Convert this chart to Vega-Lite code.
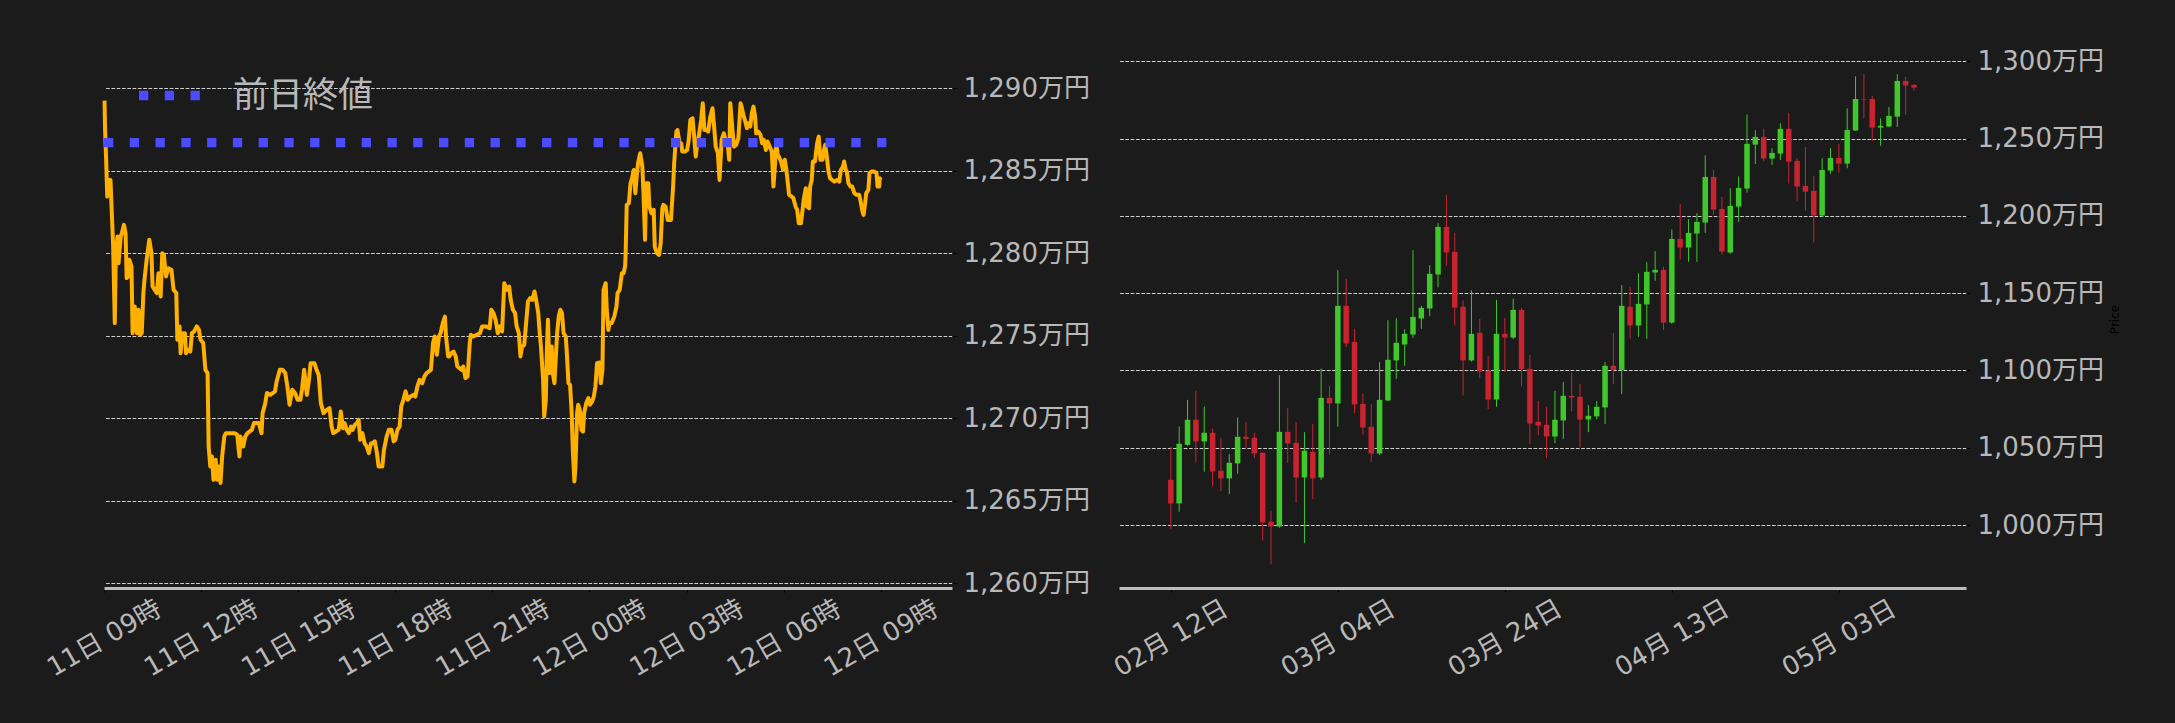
{
"$schema": "https://vega.github.io/schema/vega-lite/v6.json",
"autosize": {"type": "none"},
"padding": {"left": 104, "top": 50, "right": 2071, "bottom": 673},
"background": "#1b1b1b",
"spacing": 167,
"bounds": "flush",
"config": {
  "view": {"stroke": null},
  "font": "DejaVu Sans, Noto Sans CJK JP",
  "axis": {"labelFont": "DejaVu Sans, Noto Sans CJK JP", "labelFontSize": 26, "labelColor": "#b8b8b8", "tickColor": "#000000", "tickSize": 4, "tickWidth": 1, "labelFlush": false, "labelOverlap": false, "gridColor": "#cfcfcf", "gridDash": [3.7, 1.6], "gridWidth": 1, "titleFontWeight": "normal"},
  "axisX": {"grid": false, "domainColor": "#bdbdbd", "domainWidth": 3, "labelAngle": -30, "labelAlign": "center", "labelBaseline": "middle", "labelPadding": 46},
  "axisY": {"grid": true, "domain": false, "labelPadding": 7}
},
"hconcat": [
{
  "width": 848, "height": 538,
  "layer": [
  {
    "data": {"values": [
{"m":1,"p":1289.25},{"m":2,"p":1287.47},{"m":4,"p":1285.66},{"m":6,"p":1283.43},{"m":9,"p":1284.44},{"m":12,"p":1284.44},{"m":15,"p":1282.02},{"m":17,"p":1280.40},{"m":20,"p":1275.76},{"m":22,"p":1280.0},{"m":25,"p":1281.01},{"m":27,"p":1279.39},{"m":31,"p":1281.01},{"m":33,"p":1281.21},{"m":37,"p":1281.72},{"m":40,"p":1281.21},{"m":42,"p":1278.49},{"m":45,"p":1278.59},{"m":47,"p":1279.60},{"m":51,"p":1279.19},{"m":53,"p":1275.15},{"m":57,"p":1276.77},{"m":61,"p":1275.15},{"m":64,"p":1276.57},{"m":67,"p":1275.05},{"m":70,"p":1275.15},{"m":73,"p":1277.58},{"m":75,"p":1278.38},{"m":79,"p":1279.60},{"m":84,"p":1280.81},{"m":88,"p":1280.0},{"m":90,"p":1277.98},{"m":94,"p":1277.78},{"m":98,"p":1277.58},{"m":101,"p":1278.79},{"m":105,"p":1277.37},{"m":108,"p":1280.0},{"m":111,"p":1279.90},{"m":115,"p":1278.59},{"m":119,"p":1279.09},{"m":125,"p":1278.99},{"m":129,"p":1277.78},{"m":134,"p":1277.58},{"m":136,"p":1274.75},{"m":140,"p":1275.56},{"m":142,"p":1273.94},{"m":145,"p":1275.15},{"m":150,"p":1275.15},{"m":152,"p":1273.94},{"m":156,"p":1274.14},{"m":160,"p":1274.04},{"m":163,"p":1275.15},{"m":167,"p":1275.25},{"m":172,"p":1275.56},{"m":176,"p":1275.35},{"m":179,"p":1274.75},{"m":184,"p":1274.55},{"m":188,"p":1272.93},{"m":192,"p":1272.73},{"m":194,"p":1268.28},{"m":197,"p":1267.07},{"m":200,"p":1267.68},{"m":203,"p":1266.26},{"m":207,"p":1267.48},{"m":210,"p":1266.26},{"m":213,"p":1267.07},{"m":216,"p":1266.06},{"m":219,"p":1267.68},{"m":223,"p":1268.89},{"m":226,"p":1269.09},{"m":234,"p":1269.09},{"m":242,"p":1269.09},{"m":247,"p":1268.99},{"m":251,"p":1267.68},{"m":253,"p":1268.89},{"m":258,"p":1268.28},{"m":262,"p":1268.89},{"m":266,"p":1269.09},{"m":274,"p":1269.29},{"m":278,"p":1269.70},{"m":287,"p":1269.70},{"m":292,"p":1269.09},{"m":294,"p":1270.30},{"m":299,"p":1270.91},{"m":302,"p":1271.52},{"m":308,"p":1271.41},{"m":317,"p":1271.62},{"m":320,"p":1272.22},{"m":326,"p":1272.93},{"m":331,"p":1272.93},{"m":336,"p":1272.73},{"m":340,"p":1271.92},{"m":344,"p":1270.81},{"m":349,"p":1271.72},{"m":354,"p":1271.52},{"m":359,"p":1271.11},{"m":364,"p":1271.11},{"m":367,"p":1271.72},{"m":371,"p":1272.93},{"m":376,"p":1271.41},{"m":380,"p":1272.32},{"m":383,"p":1273.33},{"m":390,"p":1273.33},{"m":394,"p":1272.93},{"m":398,"p":1272.62},{"m":402,"p":1270.91},{"m":407,"p":1270.30},{"m":413,"p":1270.50},{"m":418,"p":1270.61},{"m":422,"p":1269.49},{"m":425,"p":1269.09},{"m":430,"p":1269.19},{"m":435,"p":1269.29},{"m":439,"p":1270.40},{"m":443,"p":1269.39},{"m":446,"p":1269.70},{"m":450,"p":1269.29},{"m":454,"p":1269.09},{"m":458,"p":1269.49},{"m":461,"p":1269.29},{"m":465,"p":1269.60},{"m":469,"p":1269.70},{"m":472,"p":1269.90},{"m":475,"p":1268.69},{"m":479,"p":1269.09},{"m":483,"p":1268.48},{"m":487,"p":1268.28},{"m":491,"p":1267.88},{"m":495,"p":1268.48},{"m":498,"p":1268.48},{"m":502,"p":1268.59},{"m":506,"p":1267.88},{"m":509,"p":1267.07},{"m":516,"p":1267.07},{"m":519,"p":1268.08},{"m":524,"p":1268.89},{"m":528,"p":1269.29},{"m":533,"p":1269.29},{"m":537,"p":1268.59},{"m":540,"p":1268.69},{"m":544,"p":1269.29},{"m":548,"p":1269.49},{"m":551,"p":1270.71},{"m":555,"p":1271.11},{"m":559,"p":1271.62},{"m":563,"p":1271.11},{"m":568,"p":1271.31},{"m":574,"p":1271.41},{"m":577,"p":1271.31},{"m":581,"p":1271.92},{"m":585,"p":1272.32},{"m":590,"p":1272.12},{"m":594,"p":1272.53},{"m":598,"p":1272.73},{"m":606,"p":1272.93},{"m":610,"p":1274.55},{"m":613,"p":1274.95},{"m":617,"p":1273.84},{"m":621,"p":1274.95},{"m":624,"p":1275.15},{"m":628,"p":1275.76},{"m":632,"p":1276.16},{"m":634,"p":1274.95},{"m":638,"p":1273.74},{"m":640,"p":1273.74},{"m":644,"p":1273.94},{"m":648,"p":1274.04},{"m":652,"p":1273.74},{"m":655,"p":1273.13},{"m":659,"p":1273.03},{"m":663,"p":1272.93},{"m":666,"p":1273.13},{"m":670,"p":1272.43},{"m":674,"p":1272.53},{"m":678,"p":1274.55},{"m":680,"p":1275.05},{"m":685,"p":1274.95},{"m":691,"p":1275.05},{"m":697,"p":1275.15},{"m":701,"p":1275.56},{"m":709,"p":1275.56},{"m":715,"p":1275.45},{"m":718,"p":1276.57},{"m":722,"p":1276.37},{"m":726,"p":1275.96},{"m":730,"p":1275.15},
{"m":734,"p":1275.56},{"m":738,"p":1275.25},{"m":742,"p":1278.18},{"m":747,"p":1277.78},{"m":751,"p":1277.98},{"m":754,"p":1277.17},{"m":758,"p":1276.57},{"m":762,"p":1276.37},{"m":765,"p":1275.56},{"m":769,"p":1275.15},{"m":772,"p":1273.74},{"m":775,"p":1274.34},{"m":779,"p":1274.44},{"m":783,"p":1275.96},{"m":786,"p":1277.07},{"m":790,"p":1277.27},{"m":794,"p":1277.17},{"m":798,"p":1277.68},{"m":801,"p":1277.17},{"m":805,"p":1276.37},{"m":807,"p":1275.45},{"m":810,"p":1274.34},{"m":814,"p":1272.32},{"m":816,"p":1270.10},{"m":819,"p":1271.11},{"m":821,"p":1274.14},{"m":823,"p":1275.96},{"m":826,"p":1272.73},{"m":830,"p":1274.34},{"m":832,"p":1272.73},{"m":835,"p":1272.12},{"m":837,"p":1273.33},{"m":840,"p":1275.15},{"m":843,"p":1276.16},{"m":846,"p":1276.57},{"m":849,"p":1276.37},{"m":852,"p":1275.15},{"m":856,"p":1274.95},{"m":858,"p":1273.94},{"m":861,"p":1272.12},{"m":864,"p":1272.02},{"m":867,"p":1270.30},{"m":869,"p":1268.08},{"m":872,"p":1266.16},{"m":874,"p":1267.07},{"m":877,"p":1270.30},{"m":879,"p":1270.81},{"m":882,"p":1270.50},{"m":885,"p":1269.29},{"m":888,"p":1269.19},{"m":890,"p":1270.30},{"m":894,"p":1270.91},{"m":898,"p":1271.21},{"m":901,"p":1270.81},{"m":905,"p":1271.01},{"m":908,"p":1271.31},{"m":911,"p":1271.92},{"m":914,"p":1273.33},{"m":919,"p":1273.37},{"m":921,"p":1272.12},{"m":924,"p":1272.93},{"m":926,"p":1277.78},{"m":930,"p":1278.18},{"m":932,"p":1276.57},{"m":935,"p":1275.35},{"m":937,"p":1275.76},{"m":941,"p":1275.76},{"m":946,"p":1276.16},{"m":950,"p":1276.77},{"m":952,"p":1277.58},{"m":956,"p":1277.78},{"m":960,"p":1278.79},{"m":963,"p":1278.79},{"m":966,"p":1279.19},{"m":967,"p":1280.0},{"m":969,"p":1282.93},{"m":973,"p":1283.03},{"m":976,"p":1284.24},{"m":979,"p":1284.55},{"m":982,"p":1285.05},{"m":985,"p":1283.64},{"m":988,"p":1284.85},{"m":990,"p":1285.46},{"m":994,"p":1286.06},{"m":998,"p":1285.25},{"m":1000,"p":1283.64},{"m":1003,"p":1280.81},{"m":1005,"p":1284.24},{"m":1009,"p":1284.24},{"m":1011,"p":1282.83},{"m":1015,"p":1282.42},{"m":1019,"p":1282.63},{"m":1021,"p":1280.40},{"m":1025,"p":1280.0},{"m":1029,"p":1279.90},{"m":1032,"p":1280.61},{"m":1035,"p":1282.73},{"m":1037,"p":1282.93},{"m":1041,"p":1282.83},{"m":1045,"p":1282.02},{"m":1051,"p":1282.02},{"m":1055,"p":1284.04},{"m":1057,"p":1285.46},{"m":1061,"p":1287.37},{"m":1063,"p":1287.47},{"m":1067,"p":1286.67},{"m":1070,"p":1286.67},{"m":1072,"p":1286.16},{"m":1077,"p":1286.16},{"m":1081,"p":1286.26},{"m":1084,"p":1286.87},{"m":1087,"p":1288.08},{"m":1091,"p":1288.18},{"m":1093,"p":1287.47},{"m":1097,"p":1285.86},{"m":1099,"p":1286.46},{"m":1103,"p":1287.17},{"m":1107,"p":1288.08},{"m":1110,"p":1289.09},{"m":1113,"p":1287.47},{"m":1117,"p":1287.47},{"m":1120,"p":1287.37},{"m":1124,"p":1288.28},{"m":1128,"p":1288.79},{"m":1131,"p":1287.68},{"m":1134,"p":1286.46},{"m":1138,"p":1286.06},{"m":1141,"p":1284.44},{"m":1145,"p":1286.87},{"m":1149,"p":1287.27},{"m":1152,"p":1286.87},{"m":1156,"p":1286.67},{"m":1159,"p":1285.66},{"m":1161,"p":1289.09},{"m":1165,"p":1287.47},{"m":1168,"p":1286.46},{"m":1172,"p":1286.57},{"m":1176,"p":1286.97},{"m":1180,"p":1289.09},{"m":1182,"p":1288.89},{"m":1186,"p":1288.28},{"m":1188,"p":1288.08},{"m":1192,"p":1287.58},{"m":1194,"p":1287.88},{"m":1198,"p":1287.68},{"m":1201,"p":1288.49},{"m":1204,"p":1288.89},{"m":1207,"p":1288.28},{"m":1209,"p":1287.27},{"m":1213,"p":1287.37},{"m":1217,"p":1287.17},{"m":1220,"p":1286.67},{"m":1223,"p":1286.87},{"m":1227,"p":1286.26},{"m":1230,"p":1286.77},{"m":1234,"p":1286.46},{"m":1238,"p":1286.16},{"m":1241,"p":1284.04},{"m":1244,"p":1285.46},{"m":1246,"p":1286.77},{"m":1249,"p":1285.96},{"m":1251,"p":1285.86},{"m":1255,"p":1285.56},{"m":1259,"p":1285.05},{"m":1262,"p":1285.66},{"m":1265,"p":1285.05},{"m":1267,"p":1284.44},{"m":1270,"p":1283.54},{"m":1275,"p":1283.43},{"m":1278,"p":1283.33},{"m":1282,"p":1282.83},{"m":1285,"p":1282.63},{"m":1288,"p":1281.82},{"m":1292,"p":1281.82},{"m":1295,"p":1282.63},{"m":1297,"p":1283.23},{"m":1301,"p":1283.94},{"m":1303,"p":1282.83},{"m":1307,"p":1282.73},{"m":1309,"p":1284.04},{"m":1312,"p":1284.44},{"m":1314,"p":1285.56},{"m":1318,"p":1285.56},{"m":1322,"p":1286.67},{"m":1325,"p":1287.07},{"m":1328,"p":1285.66},{"m":1332,"p":1285.66},{"m":1334,"p":1286.16},{"m":1337,"p":1286.57},{"m":1340,"p":1285.86},{"m":1343,"p":1284.95},{"m":1346,"p":1284.55},{"m":1350,"p":1284.44},{"m":1354,"p":1284.34},{"m":1359,"p":1284.44},{"m":1363,"p":1284.34},{"m":1366,"p":1285.05},{"m":1370,"p":1285.25},{"m":1372,"p":1285.56},{"m":1375,"p":1285.05},{"m":1377,"p":1284.95},{"m":1380,"p":1284.24},{"m":1384,"p":1284.04},{"m":1387,"p":1284.04},{"m":1391,"p":1283.64},{"m":1395,"p":1283.54},{"m":1400,"p":1283.54},{"m":1402,"p":1283.23},{"m":1406,"p":1282.53},{"m":1408,"p":1282.32},{"m":1411,"p":1283.03},{"m":1413,"p":1283.64},{"m":1417,"p":1283.84},{"m":1419,"p":1284.85},{"m":1423,"p":1284.95},{"m":1428,"p":1284.95},{"m":1432,"p":1284.85},{"m":1434,"p":1284.04},{"m":1437,"p":1284.04},{"m":1438,"p":1284.55},{"m":1440,"p":1284.44}
    ]},
    "mark": {"type": "line", "color": "#ffb000", "strokeWidth": 4, "strokeJoin": "round"},
    "encoding": {
      "x": {"field": "m", "type": "quantitative", "scale": {"domain": [0, 1572], "nice": false, "zero": false},
        "axis": {"title": null, "values": [0, 180, 360, 540, 720, 900, 1080, 1260, 1440],
          "labelExpr": "(11 + floor((datum.value/60 + 9)/24)) + '日 ' + ((((datum.value/60 + 9) % 24) < 10) ? '0' : '') + ((datum.value/60 + 9) % 24) + '時'"}},
      "y": {"field": "p", "type": "quantitative", "scale": {"domain": [1259.7, 1292.32], "nice": false, "zero": false},
        "axis": {"orient": "right", "title": null, "values": [1260, 1265, 1270, 1275, 1280, 1285, 1290],
          "labelExpr": "format(datum.value, ',') + '万円'"}}
    }
  },
  {
    "data": {"values": [{"label": "前日終値", "p": 1286.7, "m0": 0, "m1": 1460}]},
    "mark": {"type": "rule", "strokeWidth": 9.3, "strokeDash": [9.3, 16.47], "strokeCap": "butt"},
    "encoding": {
      "x": {"field": "m0", "type": "quantitative"},
      "x2": {"field": "m1"},
      "y": {"field": "p", "type": "quantitative"},
      "color": {"field": "label", "type": "nominal", "scale": {"range": ["#4b4bff"]},
        "legend": {"title": null, "orient": "none", "legendX": 30, "legendY": 10, "padding": 0,
          "symbolType": "stroke", "symbolStrokeWidth": 9.3, "symbolDash": [9.3, 16.47], "symbolSize": 3721,
          "labelFontSize": 35, "labelColor": "#b8b8b8", "labelOffset": 28, "labelFont": "Noto Sans CJK JP"}}
    }
  }
  ]
},
{
  "width": 847, "height": 538,
  "data": {"values": [
{"d":"2025-02-12","o":1029.3,"h":1050.4,"l":997.4,"c":1014.0},
{"d":"2025-02-13","o":1014.0,"h":1063.8,"l":1008.6,"c":1052.6},
{"d":"2025-02-14","o":1051.9,"h":1081.0,"l":1051.3,"c":1068.1},
{"d":"2025-02-15","o":1068.1,"h":1086.9,"l":1040.5,"c":1054.1},
{"d":"2025-02-16","o":1054.1,"h":1076.7,"l":1034.5,"c":1059.7},
{"d":"2025-02-17","o":1059.7,"h":1062.3,"l":1025.0,"c":1034.7},
{"d":"2025-02-18","o":1035.1,"h":1056.5,"l":1021.8,"c":1030.2},
{"d":"2025-02-19","o":1030.2,"h":1045.9,"l":1020.0,"c":1040.3},
{"d":"2025-02-20","o":1039.9,"h":1069.6,"l":1033.2,"c":1057.1},
{"d":"2025-02-21","o":1057.1,"h":1066.6,"l":1049.8,"c":1055.8},
{"d":"2025-02-22","o":1056.5,"h":1059.7,"l":1043.3,"c":1046.3},
{"d":"2025-02-23","o":1046.8,"h":1047.0,"l":990.1,"c":1001.7},
{"d":"2025-02-24","o":1002.2,"h":1009.3,"l":974.6,"c":999.1},
{"d":"2025-02-25","o":999.1,"h":1097.0,"l":998.3,"c":1060.3},
{"d":"2025-02-26","o":1060.3,"h":1075.6,"l":1040.1,"c":1052.8},
{"d":"2025-02-27","o":1053.2,"h":1066.6,"l":1014.6,"c":1030.8},
{"d":"2025-02-28","o":1030.8,"h":1060.1,"l":988.4,"c":1048.1},
{"d":"2025-03-01","o":1047.4,"h":1065.5,"l":1016.8,"c":1030.2},
{"d":"2025-03-02","o":1030.8,"h":1101.3,"l":1029.3,"c":1082.3},
{"d":"2025-03-03","o":1082.3,"h":1090.1,"l":1045.7,"c":1078.7},
{"d":"2025-03-04","o":1078.7,"h":1164.9,"l":1063.6,"c":1141.8},
{"d":"2025-03-05","o":1141.8,"h":1159.3,"l":1115.1,"c":1117.5},
{"d":"2025-03-06","o":1118.5,"h":1126.9,"l":1072.2,"c":1078.0},
{"d":"2025-03-07","o":1078.4,"h":1084.9,"l":1058.6,"c":1063.1},
{"d":"2025-03-08","o":1063.6,"h":1078.4,"l":1040.7,"c":1046.3},
{"d":"2025-03-09","o":1046.3,"h":1105.4,"l":1045.3,"c":1081.0},
{"d":"2025-03-10","o":1080.6,"h":1132.5,"l":1080.0,"c":1106.9},
{"d":"2025-03-11","o":1106.5,"h":1133.8,"l":1094.6,"c":1117.9},
{"d":"2025-03-12","o":1116.8,"h":1126.7,"l":1103.0,"c":1123.7},
{"d":"2025-03-13","o":1123.3,"h":1177.8,"l":1121.1,"c":1134.7},
{"d":"2025-03-14","o":1133.6,"h":1141.8,"l":1126.9,"c":1140.5},
{"d":"2025-03-15","o":1140.1,"h":1168.1,"l":1135.1,"c":1162.5},
{"d":"2025-03-16","o":1162.1,"h":1195.3,"l":1153.9,"c":1192.9},
{"d":"2025-03-17","o":1192.9,"h":1213.6,"l":1167.9,"c":1176.3},
{"d":"2025-03-18","o":1176.7,"h":1189.0,"l":1129.1,"c":1140.7},
{"d":"2025-03-19","o":1141.2,"h":1145.3,"l":1083.8,"c":1106.5},
{"d":"2025-03-20","o":1106.5,"h":1151.9,"l":1105.8,"c":1123.7},
{"d":"2025-03-21","o":1124.4,"h":1133.4,"l":1095.0,"c":1099.4},
{"d":"2025-03-22","o":1099.8,"h":1109.5,"l":1075.0,"c":1081.2},
{"d":"2025-03-23","o":1081.2,"h":1145.7,"l":1076.5,"c":1123.7},
{"d":"2025-03-24","o":1123.7,"h":1134.0,"l":1098.9,"c":1121.3},
{"d":"2025-03-25","o":1121.3,"h":1146.5,"l":1120.3,"c":1139.2},
{"d":"2025-03-26","o":1139.2,"h":1140.5,"l":1089.7,"c":1100.9},
{"d":"2025-03-27","o":1101.1,"h":1110.1,"l":1052.4,"c":1065.7},
{"d":"2025-03-28","o":1066.8,"h":1080.4,"l":1058.0,"c":1064.4},
{"d":"2025-03-29","o":1064.9,"h":1076.5,"l":1043.3,"c":1057.3},
{"d":"2025-03-30","o":1057.3,"h":1086.9,"l":1053.0,"c":1068.1},
{"d":"2025-03-31","o":1067.7,"h":1092.5,"l":1055.6,"c":1083.6},
{"d":"2025-04-01","o":1083.6,"h":1098.7,"l":1073.5,"c":1082.5},
{"d":"2025-04-02","o":1083.0,"h":1091.4,"l":1050.2,"c":1068.3},
{"d":"2025-04-03","o":1068.3,"h":1077.6,"l":1060.1,"c":1070.7},
{"d":"2025-04-04","o":1070.3,"h":1080.2,"l":1068.5,"c":1076.5},
{"d":"2025-04-05","o":1076.1,"h":1105.4,"l":1065.3,"c":1103.0},
{"d":"2025-04-06","o":1103.0,"h":1124.4,"l":1091.2,"c":1100.4},
{"d":"2025-04-07","o":1100.4,"h":1155.2,"l":1084.7,"c":1141.8},
{"d":"2025-04-08","o":1141.2,"h":1154.1,"l":1120.7,"c":1129.1},
{"d":"2025-04-09","o":1129.1,"h":1162.9,"l":1121.8,"c":1143.1},
{"d":"2025-04-10","o":1142.7,"h":1170.0,"l":1120.5,"c":1163.8},
{"d":"2025-04-11","o":1163.4,"h":1177.2,"l":1158.0,"c":1165.1},
{"d":"2025-04-12","o":1165.1,"h":1167.0,"l":1126.1,"c":1131.0},
{"d":"2025-04-13","o":1131.0,"h":1191.2,"l":1130.2,"c":1185.1},
{"d":"2025-04-14","o":1185.1,"h":1207.8,"l":1171.8,"c":1179.5},
{"d":"2025-04-15","o":1179.5,"h":1197.8,"l":1170.3,"c":1189.0},
{"d":"2025-04-16","o":1188.6,"h":1201.7,"l":1170.3,"c":1196.1},
{"d":"2025-04-17","o":1195.7,"h":1239.2,"l":1189.0,"c":1225.2},
{"d":"2025-04-18","o":1225.2,"h":1229.7,"l":1200.6,"c":1204.1},
{"d":"2025-04-19","o":1204.5,"h":1212.3,"l":1175.0,"c":1176.9},
{"d":"2025-04-20","o":1176.3,"h":1217.9,"l":1175.4,"c":1206.5},
{"d":"2025-04-21","o":1206.0,"h":1225.6,"l":1196.1,"c":1218.1},
{"d":"2025-04-22","o":1217.7,"h":1265.7,"l":1215.1,"c":1246.6},
{"d":"2025-04-23","o":1246.1,"h":1255.4,"l":1233.6,"c":1251.1},
{"d":"2025-04-24","o":1251.1,"h":1256.3,"l":1235.3,"c":1237.1},
{"d":"2025-04-25","o":1237.1,"h":1243.8,"l":1233.0,"c":1240.7},
{"d":"2025-04-26","o":1240.3,"h":1259.9,"l":1236.2,"c":1256.3},
{"d":"2025-04-27","o":1256.3,"h":1266.6,"l":1220.9,"c":1235.1},
{"d":"2025-04-28","o":1235.6,"h":1237.5,"l":1209.3,"c":1219.0},
{"d":"2025-04-29","o":1219.4,"h":1244.6,"l":1203.4,"c":1215.7},
{"d":"2025-04-30","o":1216.2,"h":1225.9,"l":1182.8,"c":1200.2},
{"d":"2025-05-01","o":1200.2,"h":1237.3,"l":1199.4,"c":1229.7},
{"d":"2025-05-02","o":1229.3,"h":1243.8,"l":1227.2,"c":1237.5},
{"d":"2025-05-03","o":1237.5,"h":1246.6,"l":1228.0,"c":1233.8},
{"d":"2025-05-04","o":1233.8,"h":1269.6,"l":1230.8,"c":1255.6},
{"d":"2025-05-05","o":1255.2,"h":1290.3,"l":1255.2,"c":1275.6},
{"d":"2025-05-06","o":1275.6,"h":1291.8,"l":1263.1,"c":1275.2},
{"d":"2025-05-07","o":1275.6,"h":1277.6,"l":1248.3,"c":1257.1},
{"d":"2025-05-08","o":1257.1,"h":1263.1,"l":1245.3,"c":1258.2},
{"d":"2025-05-09","o":1257.8,"h":1270.5,"l":1257.5,"c":1264.7},
{"d":"2025-05-10","o":1264.2,"h":1291.6,"l":1257.5,"c":1287.3},
{"d":"2025-05-11","o":1287.3,"h":1289.9,"l":1265.5,"c":1284.3},
{"d":"2025-05-12","o":1284.7,"h":1285.3,"l":1281.0,"c":1283.0}
  ]},
  "encoding": {
    "x": {"field": "d", "type": "temporal",
      "scale": {"type": "utc", "domain": [{"year": 2025, "month": 2, "date": 6, "hours": 9, "minutes": 22, "utc": true}, {"year": 2025, "month": 5, "date": 17, "hours": 15, "minutes": 7, "utc": true}]},
      "axis": {"title": null, "labelExpr": "utcFormat(datum.value, '%m月 %d日')",
        "values": [{"year": 2025, "month": 2, "date": 12, "utc": true}, {"year": 2025, "month": 3, "date": 4, "utc": true}, {"year": 2025, "month": 3, "date": 24, "utc": true}, {"year": 2025, "month": 4, "date": 13, "utc": true}, {"year": 2025, "month": 5, "date": 3, "utc": true}]}},
    "color": {"condition": {"test": "datum.c >= datum.o", "value": "#3fc82a"}, "value": "#c8242f"}
  },
  "layer": [
    {
      "mark": {"type": "rule", "strokeWidth": 1},
      "encoding": {
        "y": {"field": "l", "type": "quantitative", "scale": {"domain": [959.3, 1307.3], "nice": false, "zero": false},
          "axis": {"orient": "right", "values": [1000, 1050, 1100, 1150, 1200, 1250, 1300],
            "labelExpr": "format(datum.value, ',') + '万円'",
            "title": "Price", "titleColor": "#000000", "titleFont": "DejaVu Sans", "titleFontSize": 12, "titleAngle": 270, "titleBaseline": "top", "titlePadding": 6}},
        "y2": {"field": "h"}
      }
    },
    {
      "mark": {"type": "bar", "width": 5.5},
      "encoding": {
        "y": {"field": "o", "type": "quantitative"},
        "y2": {"field": "c"}
      }
    }
  ]
}
]
}
